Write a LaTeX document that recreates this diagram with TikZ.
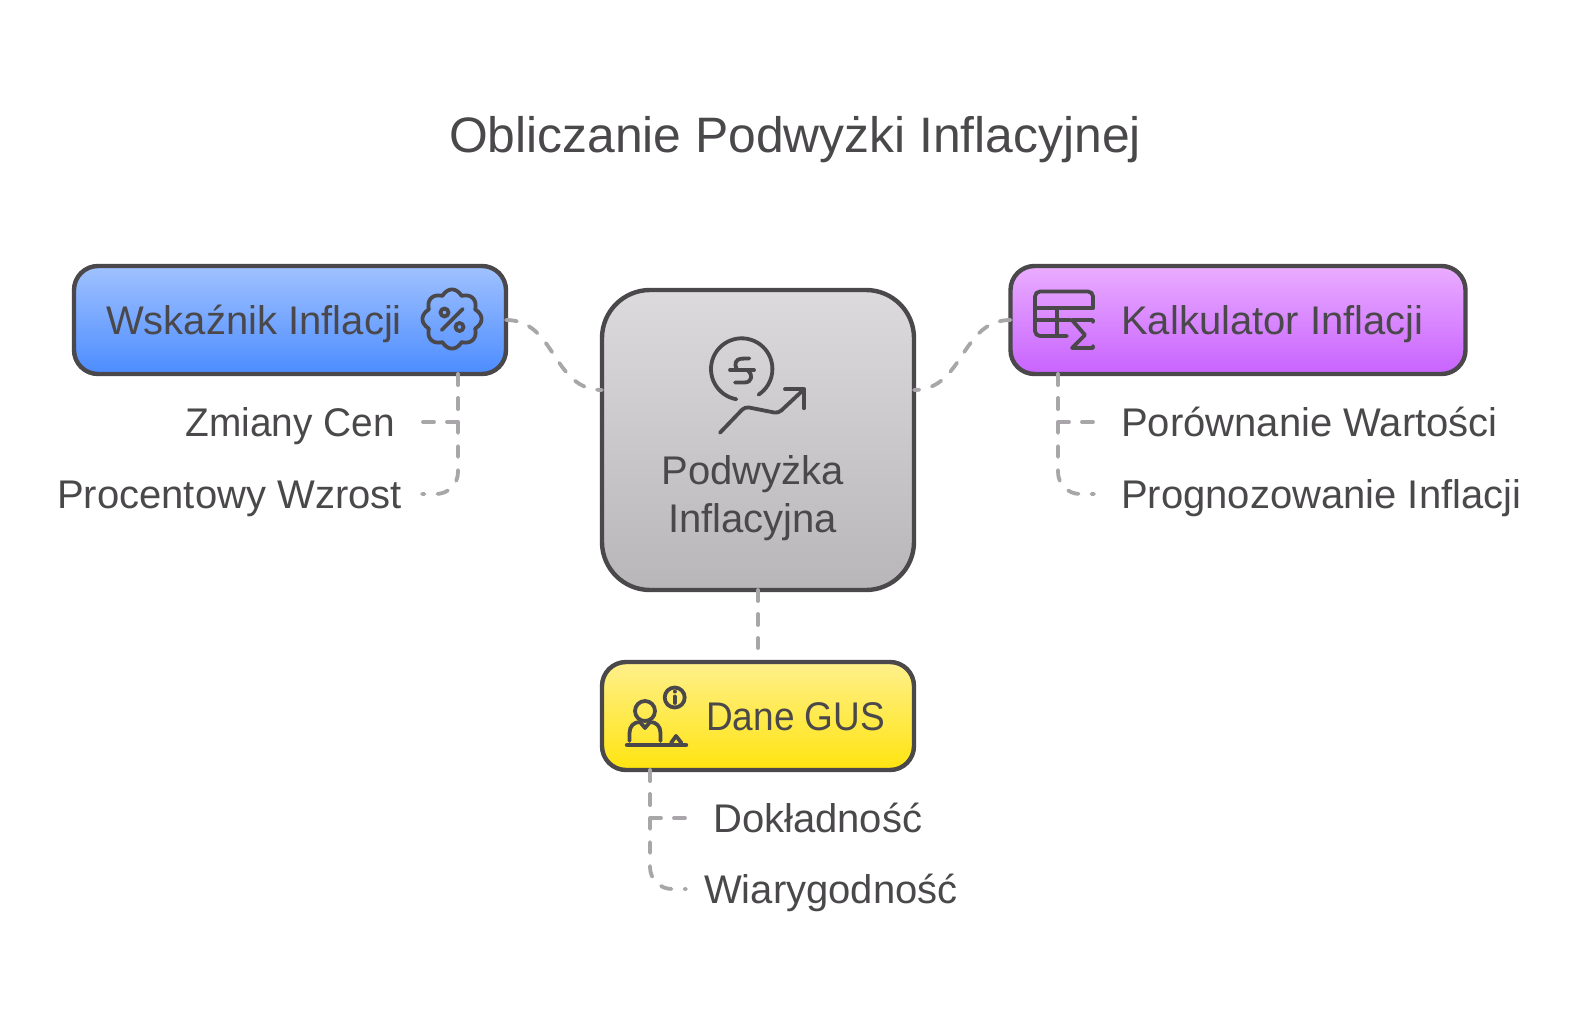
\documentclass[tikz,border=0pt]{standalone}
\usepackage{fontspec}
\setmainfont{Liberation Sans}
\usetikzlibrary{positioning, calc}
\definecolor{inkgray}{HTML}{4A484A}
\definecolor{linkgray}{HTML}{A8A6A8}
\definecolor{bluetop}{HTML}{A0C2FF}
\definecolor{bluebot}{HTML}{4C8CFF}
\definecolor{purpletop}{HTML}{EAACFF}
\definecolor{purplebot}{HTML}{C863FF}
\definecolor{yellowtop}{HTML}{FFF08C}
\definecolor{yellowbot}{HTML}{FFE40F}
\definecolor{graytop}{HTML}{DCDADD}
\definecolor{graybot}{HTML}{B8B6B9}
\tikzset{
    box node/.style={draw=inkgray, line width=4.4pt, inner sep=0pt, outer sep=0pt, rounded corners=24pt},
    blue box/.style={box node, minimum width=432pt, minimum height=108pt, top color=bluetop, bottom color=bluebot},
    purple box/.style={box node, minimum width=455pt, minimum height=108pt, top color=purpletop, bottom color=purplebot},
    yellow box/.style={box node, minimum width=312pt, minimum height=108pt, top color=yellowtop, bottom color=yellowbot},
    gray box/.style={box node, minimum width=312pt, minimum height=300pt, rounded corners=48pt, top color=graytop, bottom color=graybot},
    title text/.style={text=inkgray, inner sep=0pt, text height=46pt, text depth=10pt, font=\fontsize{49.8}{58}\selectfont},
    label text/.style={text=inkgray, inner sep=0pt, text height=36.6pt, text depth=8pt, font=\fontsize{40}{48.5}\selectfont},
    center text/.style={text=inkgray, inner sep=0pt, font=\fontsize{40}{48.5}\selectfont},
    squeezed/.style={transform shape, xscale=#1},
    link/.style={draw=linkgray, line width=3.8pt, line cap=round, dash pattern=on 11pt off 13pt},
    icon line/.style={draw=inkgray, line width=3.8pt, line cap=round, line join=round},
}
\begin{document}
\begin{tikzpicture}[x=1pt, y=-1pt]
    \useasboundingbox (0,0) rectangle (1588,1012);
    % boxes
    \node[gray box] (podwyzka) at (758,440) {};
    \node[blue box] (wskaznik) at (290,320) {};
    \node[purple box] (kalkulator) at (1238,320) {};
    \node[yellow box] (dane) at (758,716) {};
    % texts
    \node[title text] (tytul) at (795,134) {Obliczanie Podwyżki Inflacyjnej};
    \node[center text, align=center] (podwyzkatext) at (752.5,498) {Podwyżka\\Inflacyjna};
    \node[label text, anchor=west] (wskaznikt) at (106,320) {Wskaźnik Inflacji};
    \node[label text, anchor=west] (kalkulatort) at (1121,320) {Kalkulator Inflacji};
    \node[label text, anchor=west, squeezed=0.925] (danet) at (706,716) {Dane GUS};
    \node[label text, anchor=east, squeezed=0.97] (zmiany) at (395,422) {Zmiany Cen};
    \node[label text, anchor=east] (procent) at (402,494) {Procentowy Wzrost};
    \node[label text, anchor=west] (porownanie) at (1121,422) {Porównanie Wartości};
    \node[label text, anchor=west] (prognoza) at (1121,494) {Prognozowanie Inflacji};
    \node[label text, anchor=west] (dokladnosc) at (713,818) {Dokładność};
    \node[label text, anchor=west] (wiarygodnosc) at (704,889) {Wiarygodność};
    % connectors
    \draw[link] (wskaznik.east) .. controls +(50,0) and +(-50,0) .. ([yshift=50pt]podwyzka.west);
    \draw[link] (kalkulator.west) .. controls +(-50,0) and +(50,0) .. ([yshift=50pt]podwyzka.east);
    \draw[link, shorten >=14pt] (podwyzka.south) -- (dane.north);
    \draw[link, shorten >=27pt] ([xshift=168pt]wskaznik.south) |- (zmiany.east);
    \draw[link, rounded corners=22pt, shorten >=20pt] ([xshift=168pt]wskaznik.south) |- (procent.east);
    \draw[link, shorten >=27pt] ([xshift=-180pt]kalkulator.south) |- (porownanie.west);
    \draw[link, rounded corners=22pt, shorten >=27pt] ([xshift=-180pt]kalkulator.south) |- (prognoza.west);
    \draw[link, shorten >=27pt] ([xshift=-108pt]dane.south) |- (dokladnosc.west);
    \draw[link, rounded corners=22pt, shorten >=18pt] ([xshift=-108pt]dane.south) |- (wiarygodnosc.west);
    % percent icon
    \draw[icon line] plot[domain=0:360, samples=145] ({452+(25+4.5*abs(cos(4*\x)))*cos(\x)}, {319+(25+4.5*abs(cos(4*\x)))*sin(\x)}) -- cycle;
    \draw[icon line] (441.7,330) -- (462.7,309);
    \draw[icon line] (444.5,312.5) circle (4);
    \draw[icon line] (459.5,327) circle (4);
    % table icon
    \draw[icon line, rounded corners=5pt] (1067,336) -- (1035,336) -- (1035,291.5) -- (1093,291.5) -- (1093,308);
    \draw[icon line] (1035,308) -- (1093,308);
    \draw[icon line] (1035,320) -- (1070,320);
    \draw[icon line] (1057,308) -- (1057,336);
    \draw[icon line] (1093,322) -- (1093,320) -- (1072,320) -- (1085,335) -- (1072,348) -- (1093,348) -- (1093,346);
    % person icon
    \draw[icon line] (645,711) circle (10);
    \draw[icon line] (629.5,741) -- (629.5,733) .. controls (629.5,726) and (634,722) .. (640,722) -- (645,728) -- (650,722) .. controls (656,722) and (660.5,726) .. (660.5,733) -- (660.5,741);
    \draw[icon line, line width=4.4pt] (627,745) -- (686,745);
    \draw[icon line] (671,743) -- (676,736) -- (681.5,743);
    \draw[icon line] (674.7,697.5) circle (10);
    \draw[icon line] (674.7,696.5) -- (674.7,703);
    \draw[icon line] (674.7,691.5) -- (674.7,691.6);
    % coin icon
    \draw[icon line] plot[domain=100:416.6, samples=50, smooth] ({741.7+30.7*cos(\x)}, {369+30.7*sin(\x)});
    \draw[icon line] (749.3,358.4) -- (741,358.7) .. controls (736,359.2) and (734,363.7) .. (736.5,368.7);
    \draw[icon line] (730,370) -- (754,370);
    \draw[icon line] (748.3,370.7) .. controls (753,374.7) and (752,382.4) .. (745,382.4) -- (735,382.4);
    \draw[icon line, rounded corners=4pt] (720,432.7) -- (745,406.7) -- (778.3,413.3) -- (804,389.3);
    \draw[icon line] (785,389.3) -- (804,389.3) -- (804,408.3);
\end{tikzpicture}
\end{document}
